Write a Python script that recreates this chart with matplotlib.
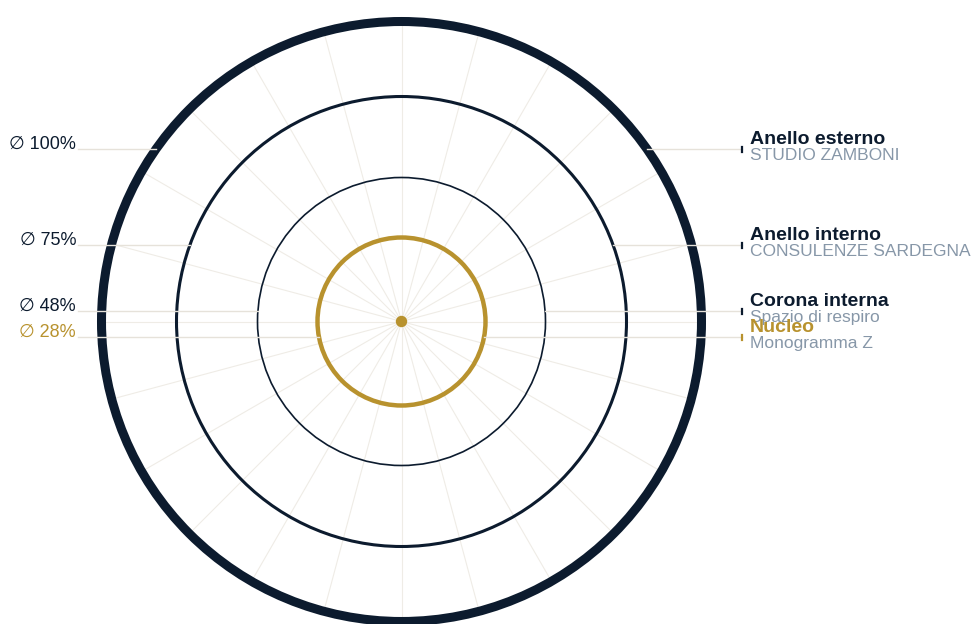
import matplotlib.pyplot as plt
from matplotlib.patches import Circle
import numpy as np

# ring data (percent of outer diameter)
levels = [100, 75, 48, 28]
titles = ["Anello esterno", "Anello interno", "Corona interna", "Nucleo"]
subtitles = ["STUDIO ZAMBONI", "CONSULENZE SARDEGNA", "Spazio di respiro", "Monogramma Z"]
spoke_angles = list(range(0, 360, 15))

# layout (pixels)
cx, cy, R = 401.5, 321.5, 300
label_y = [149, 245, 311, 337]
ring_lw = [6.5, 2.2, 1.2, 3.2]

NAVY = "#0c1b2e"
GOLD = "#b8922e"
GREY = "#8797a8"
LINE = "#e6e2da"
SPOKE = "#efece6"
ring_col = [NAVY, NAVY, NAVY, GOLD]

plt.rcParams['font.family'] = ['Liberation Sans', 'DejaVu Sans']

fig = plt.figure(figsize=(9.72, 6.24), dpi=100)
ax = fig.add_axes([0, 0, 1, 1])
ax.set_xlim(0, 972)
ax.set_ylim(624, 0)
ax.axis("off")

# spokes
for a in spoke_angles:
    t = np.radians(a)
    ax.plot([cx, cx + R * np.cos(t)], [cy, cy + R * np.sin(t)], color=SPOKE, lw=0.8, zorder=1)

# rings
for lv, lw, c in zip(levels, ring_lw, ring_col):
    ax.add_patch(Circle((cx, cy), R * lv / 100, fill=False, ec=c, lw=lw, zorder=2))
ax.add_patch(Circle((cx, cy), 5, color=GOLD, zorder=4))

# leader lines and labels
for lv, y, c, ti, su in zip(levels, label_y, ring_col, titles, subtitles):
    r = R * lv / 100
    dx = np.sqrt(r ** 2 - (y - cy) ** 2)
    ax.plot([78, cx - dx], [y, y], color=LINE, lw=1, zorder=3)
    ax.plot([cx + dx, 742], [y, y], color=LINE, lw=1, zorder=3)
    ax.plot([742, 742], [y - 2.5, y + 2.5], color=c, lw=1.6, zorder=3)
    ax.text(76, y - 0.5, "\u2205 %d%%" % lv, color=c, fontsize=13, ha="right", va="baseline")
    ax.text(750, y - 5, ti, color=c, fontsize=14, fontweight="bold", ha="left", va="baseline")
    ax.text(750, y + 11, su, color=GREY, fontsize=12.5, ha="left", va="baseline")

fig.savefig("out.png", dpi=100, facecolor="white")
